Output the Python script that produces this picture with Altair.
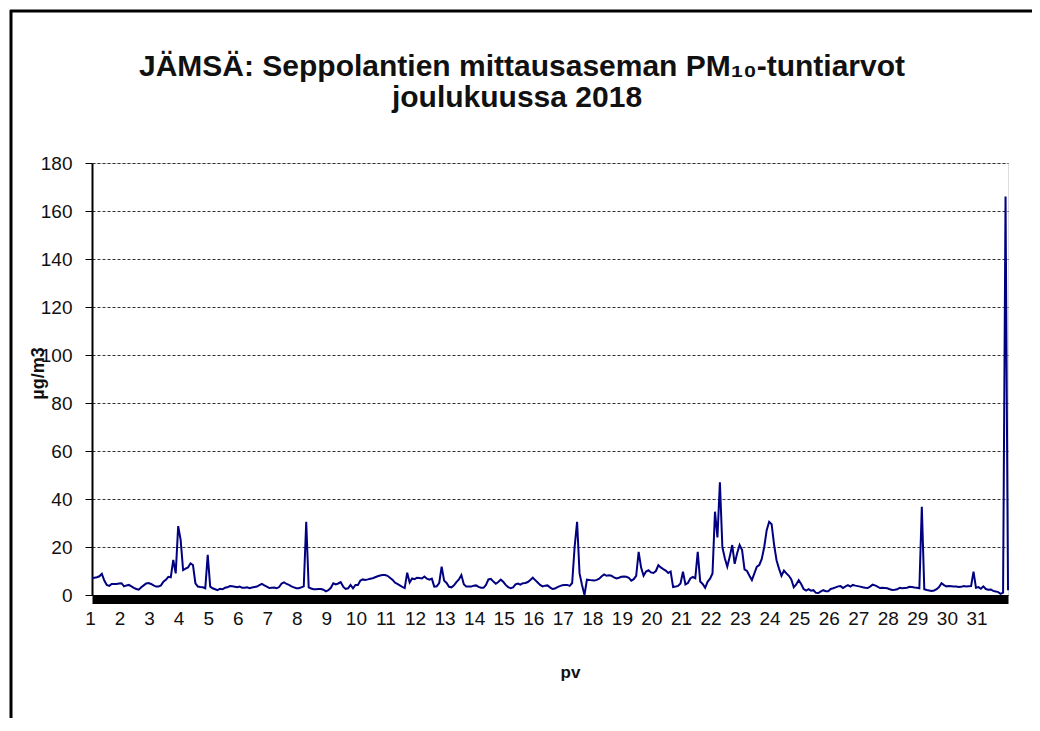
import altair as alt
import pandas as pd

# PM10 hourly values (every 2nd hour), one list per day of December 2018
day01 = [7, 7.2, 7.4, 7.8, 8.8, 6, 4.2, 3.8, 4.6, 4.6, 4.6, 4.8]
day02 = [4.9, 3.6, 4, 4.2, 3.6, 3, 2.5, 2.2, 3.2, 4, 4.8, 5]
day03 = [4.6, 4, 3.5, 3.5, 4, 5.5, 6.3, 7.6, 7.4, 14.6, 9, 28.7]
day04 = [23, 10.4, 11, 11.5, 13.2, 12.5, 4.9, 3.5, 3.3, 3.2, 2.8, 16.7]
day05 = [3.5, 2.8, 2.4, 2, 2.6, 2.4, 3, 3.2, 3.7, 3.6, 3.4, 3.2]
day06 = [3.5, 3, 3, 3.2, 2.8, 3.1, 3.3, 3.5, 4.1, 4.6, 4, 3.5]
day07 = [2.9, 3, 3.1, 2.8, 3.3, 4.8, 5.3, 4.6, 4.2, 3.6, 3.2, 2.8]
day08 = [2.8, 3.2, 3.6, 30.5, 3.2, 2.7, 2.4, 2.4, 2.5, 2.5, 2.2, 1.5]
day09 = [2, 3, 4.9, 4.4, 4.8, 5.4, 3.5, 2.5, 2.8, 4.2, 2.8, 4.2]
day10 = [4.2, 6, 6.5, 6.3, 6.5, 6.8, 7, 7.4, 7.8, 8.1, 8.3, 8.3]
day11 = [8, 7.2, 6.4, 5.2, 4.6, 4, 3.4, 2.9, 9.3, 5.2, 6.9, 6.6]
day12 = [7.2, 7.1, 6.9, 7.7, 6.8, 6.4, 6.8, 3.5, 3.6, 5, 11.8, 6]
day13 = [5, 3.4, 3.2, 4, 5.4, 6.5, 8.3, 4.5, 3.5, 3.5, 3.5, 3.9]
day14 = [4, 3.4, 3, 3, 4.2, 6.5, 6.7, 5.6, 4.7, 5.4, 6.4, 5.5]
day15 = [4.2, 3.3, 2.8, 3.2, 4.4, 4.8, 4.3, 4.9, 5, 5.4, 6.3, 7.2]
day16 = [6.2, 5.2, 4.2, 3.6, 3.9, 4, 3.2, 2.5, 2.7, 3.3, 3.7, 4.1]
day17 = [4.2, 4.2, 3.8, 5, 20, 30.5, 9, 4.2, 0, 6.4, 6.3, 6.1]
day18 = [6, 6.3, 6.8, 7.8, 8.6, 8, 8.2, 8, 7.3, 6.9, 7.2, 7.6]
day19 = [7.7, 7.6, 7.2, 6, 6.6, 8, 18, 11.4, 8, 9.8, 10.3, 9.4]
day20 = [9.2, 10, 12.4, 11.5, 10.8, 10.2, 9.2, 9.8, 3.3, 3.5, 3.8, 4.8]
day21 = [9.7, 4.4, 5, 6.9, 7.5, 7, 18, 5.6, 4.6, 3, 5.5, 6.8]
day22 = [9, 34.7, 24, 47, 20, 15.3, 11.8, 16, 20.8, 13, 17.4, 20.8]
day23 = [18.7, 10.7, 10, 8, 6.2, 9, 11.8, 12.5, 15, 20, 27, 30.5]
day24 = [29.5, 21, 14.5, 11, 8, 10.2, 9, 8, 6.5, 3.2, 4.4, 6.2]
day25 = [4.6, 2.5, 1.8, 2.4, 1.8, 2, 0.9, 0.8, 1.5, 2, 1.6, 1.6]
day26 = [2.5, 2.8, 3.2, 3.6, 3.7, 2.9, 3.6, 4.1, 3.5, 4.2, 3.9, 3.7]
day27 = [3.5, 3.2, 3, 2.9, 3.5, 4.3, 4, 3.5, 2.9, 3, 2.9, 2.8]
day28 = [2.4, 2.1, 2.2, 2.4, 3, 2.8, 2.9, 3, 3.4, 3.3, 3.1, 3]
day29 = [2.8, 36.8, 2.4, 2.1, 1.9, 1.7, 1.9, 2.4, 3.3, 4.9, 4.1, 3.6]
day30 = [3.7, 3.6, 3.5, 3.5, 3.3, 3.4, 3.7, 3.5, 3.6, 3.7, 9.7, 3]
day31 = [3.3, 2.6, 3.6, 2.5, 2.2, 2.3, 1.7, 1.5, 1.2, 0.5, 1, 166, 2]

days = [day01, day02, day03, day04, day05, day06, day07, day08, day09, day10,
        day11, day12, day13, day14, day15, day16, day17, day18, day19, day20,
        day21, day22, day23, day24, day25, day26, day27, day28, day29, day30, day31]

y_ticks = [0, 20, 40, 60, 80, 100, 120, 140, 160, 180]
title_line1 = ["JÄMSÄ: Seppolantien mittausaseman PM₁₀-tuntiarvot"]
title_line2 = ["joulukuussa 2018"]

rows = []
h = 0
for d in days:
    for v in d:
        rows.append({"hour": h, "value": v})
        h += 2
df = pd.DataFrame(rows)

FONT = "Liberation Sans"

line = alt.Chart(df).mark_line(color="#000080", strokeWidth=2).encode(
    x=alt.X("hour:Q",
            scale=alt.Scale(domain=[0, 744], nice=False, zero=False),
            axis=alt.Axis(values=[i * 24 for i in range(31)],
                          labelExpr="format(datum.value/24+1,'d')",
                          tickSize=0, domainWidth=9, domainColor="black",
                          offset=4, labelFontSize=19, labelPadding=10,
                          labelOffset=-2,
                          labelFont=FONT, labelColor="#111",
                          labelFlush=False, labelOverlap=False, labelBound=False,
                          grid=False, title="pv", titleFont=FONT,
                          titleFontSize=17, titleFontWeight="bold",
                          titleX=478, titleY=73, titleBaseline="middle",
                          titleColor="#111")),
    y=alt.Y("value:Q",
            scale=alt.Scale(domain=[0, 180], nice=False),
            axis=alt.Axis(values=y_ticks, tickSize=7, tickColor="black",
                          domainColor="black", domainWidth=2,
                          labelFontSize=19, labelPadding=13, labelFont=FONT,
                          labelColor="#111",
                          grid=True, gridDash=[3, 2], gridColor="#333",
                          gridWidth=1, title="µg/m3", titleFont=FONT,
                          titleFontSize=18, titleFontWeight="bold",
                          titleX=-54, titleY=210, titleAlign="center",
                          titleBaseline="middle", titleColor="#111")),
)

t1 = alt.Chart(pd.DataFrame({"t": title_line1})).mark_text(
    font=FONT, fontSize=30, fontWeight="bold", color="#111", align="center",
    baseline="alphabetic").encode(text="t:N", x=alt.value(430), y=alt.value(-87))
t2 = alt.Chart(pd.DataFrame({"t": title_line2})).mark_text(
    font=FONT, fontSize=30, fontWeight="bold", color="#111", align="center",
    baseline="alphabetic").encode(text="t:N", x=alt.value(425), y=alt.value(-56))

dummy = pd.DataFrame({"a": [0]})
border_left = alt.Chart(dummy).mark_rule(color="black", strokeWidth=3).encode(
    x=alt.value(-81), y=alt.value(-153), y2=alt.value(560))
border_top = alt.Chart(dummy).mark_rule(color="black", strokeWidth=3).encode(
    y=alt.value(-152), x=alt.value(-82), x2=alt.value(950))

chart = alt.layer(line, t1, t2, border_left, border_top).properties(
    width=916, height=432,
    autosize=alt.AutoSizeParams(type="none"),
    padding={"left": 84, "top": 155, "right": 24, "bottom": 123},
).configure_view(stroke="black", strokeWidth=2).configure(background="white")

chart.save("out.html", embed_options={"renderer": "svg", "actions": False})
